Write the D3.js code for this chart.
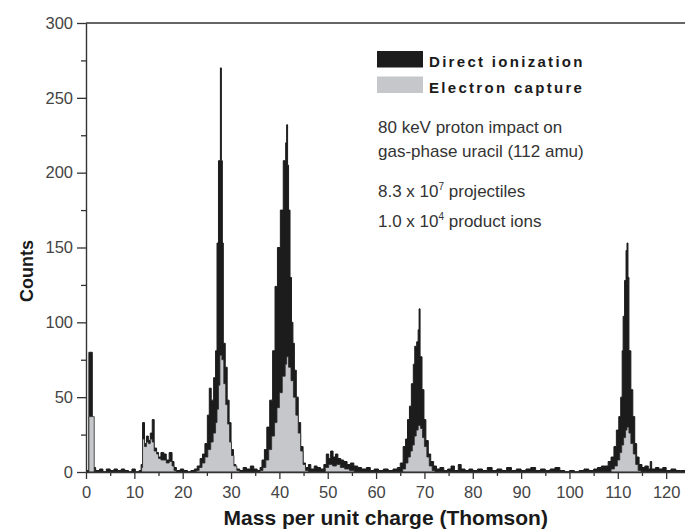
<!DOCTYPE html>
<html>
<head>
<meta charset="utf-8">
<script src="https://cdn.jsdelivr.net/npm/d3@7"></script>
<style>
  body { margin: 0; background: #fff; }
  svg { display: block; font-family: "Liberation Sans", Arial, sans-serif; }
</style>
</head>
<body>
<div id="chart"></div>
<script>
// [mass (Th), counts] — each count holds until the next mass (histogram steps)
const directIonization = [
  [0, 1], [0.6, 80], [1.3, 3], [2, 1], [2.8, 2], [3.5, 0], [4.2, 2], [5, 1], [5.8, 2], [6.5, 1],
  [7.3, 2], [8, 1], [8.8, 0], [9.5, 2], [10.2, 0], [11, 1],
  [11.4, 5], [11.7, 33], [12.1, 19], [12.5, 24], [12.9, 21], [13.3, 26], [13.7, 35], [14.1, 16],
  [14.6, 13], [15, 10], [15.5, 13], [16.1, 12], [16.6, 8], [17.2, 13], [17.8, 7], [18.2, 3],
  [18.7, 1], [19.5, 2], [20.2, 1], [21, 0], [21.7, 1], [22.4, 2],
  [23, 4], [23.6, 9], [24.1, 12], [24.6, 19], [25.1, 38], [25.5, 56], [25.9, 48], [26.4, 63],
  [26.8, 81], [27.1, 153], [27.4, 208], [27.8, 270], [28, 208], [28.2, 153], [28.4, 86],
  [28.8, 70], [29.2, 48], [29.6, 33], [30, 15], [30.5, 5], [31, 2],
  [31.8, 1], [32.5, 3], [33.2, 2], [34, 4], [34.7, 2], [35.4, 1],
  [36, 3], [36.4, 8], [36.9, 15], [37.4, 30], [38, 48], [38.6, 81], [39.1, 124], [39.6, 150],
  [40.2, 175], [40.8, 208], [41.3, 220], [41.5, 232], [41.7, 205], [41.9, 175], [42.2, 130],
  [42.5, 100], [42.8, 86], [43.1, 68], [43.5, 50], [43.9, 33], [44.4, 17], [44.9, 6],
  [45.4, 3], [46, 5], [46.5, 2], [47.2, 4], [47.8, 3], [48.5, 2],
  [49.2, 5], [49.7, 12], [50.2, 9], [50.6, 14], [51.1, 10], [51.6, 12], [52.1, 9], [52.7, 8],
  [53.3, 7], [54, 5], [54.7, 6], [55.4, 4], [56.2, 3], [57, 2], [58, 3], [58.8, 1],
  [59.6, 2], [60.5, 1], [61.5, 2], [62.5, 1], [63.5, 2], [64.4, 3],
  [65, 6], [65.6, 17], [66.1, 22], [66.5, 35], [66.9, 44], [67.3, 59], [67.7, 72], [68, 84],
  [68.4, 87], [68.7, 95], [68.9, 109], [69.1, 77], [69.5, 55], [69.9, 35], [70.3, 21],
  [70.8, 12], [71.3, 7], [71.9, 4], [72.5, 2],
  [73.2, 3], [74, 1], [74.8, 2], [75.5, 4], [76.2, 1], [77, 5], [77.6, 2], [78.4, 1], [79.2, 2],
  [80, 1], [81, 2], [82, 1], [83, 3], [84, 1], [85, 2], [86, 1], [87, 3], [88, 1], [89, 2],
  [90, 1], [91, 2], [92, 3], [93, 1], [94, 2], [95, 1], [96, 2], [97, 3], [98, 1], [99, 0],
  [100, 1], [101, 0], [102, 1], [103, 2], [104, 1], [105, 2], [105.8, 3], [106.6, 4],
  [107.3, 4], [108, 7], [108.6, 10], [109.2, 17], [109.7, 28], [110.2, 37], [110.6, 50],
  [110.9, 81], [111.1, 104], [111.4, 128], [111.7, 148], [111.9, 153], [112.1, 130],
  [112.3, 81], [112.7, 55], [113.1, 37], [113.5, 19], [113.9, 10], [114.4, 5],
  [115, 3], [115.6, 4], [116.3, 2], [116.7, 7], [117, 2], [117.8, 3], [118.5, 2], [119.3, 3],
  [120, 1], [121, 2], [122, 1], [123, 1], [124, 1]
];

const electronCapture = [
  [0, 0], [0.6, 37], [1.7, 0],
  [11.5, 3], [11.7, 22], [12.1, 17], [12.5, 20], [12.9, 19], [13.3, 22], [13.7, 20], [14.1, 14],
  [14.6, 12], [15, 9], [15.5, 8], [16.1, 8], [16.6, 6], [17.2, 7], [17.8, 4], [18.2, 1], [18.7, 0],
  [22.8, 1], [23.4, 3], [24, 6], [24.6, 10], [25.2, 15], [25.8, 20], [26.3, 26], [26.8, 33],
  [27.1, 42], [27.4, 58], [27.7, 78], [28.1, 75], [28.5, 59], [28.9, 45], [29.3, 32],
  [29.7, 20], [30.1, 11], [30.6, 4], [31.2, 1], [31.8, 0],
  [36, 1], [36.6, 3], [37.2, 8], [37.8, 15], [38.4, 24], [39, 33], [39.5, 43], [40, 53],
  [40.6, 64], [41.2, 72], [41.5, 77], [41.9, 70], [42.4, 61], [42.9, 50], [43.4, 38],
  [43.9, 26], [44.4, 14], [44.9, 5], [45.4, 1], [46, 0],
  [49.5, 3], [50.2, 5], [51, 4], [51.8, 5], [52.6, 3], [53.5, 2], [54.5, 1], [55.5, 0],
  [65.5, 2], [66.1, 6], [66.6, 10], [67.1, 14], [67.5, 18], [67.9, 24], [68.3, 28], [68.7, 31],
  [69.2, 29], [69.6, 23], [70, 17], [70.5, 10], [71, 4], [71.6, 1], [72.2, 0],
  [108.6, 2], [109.3, 4], [109.9, 8], [110.4, 13], [110.8, 18], [111.2, 23], [111.6, 28],
  [111.9, 30], [112.3, 26], [112.7, 19], [113.2, 12], [113.7, 5], [114.2, 1], [114.8, 0],
  [124, 0]
];

const xTicks = [0, 10, 20, 30, 40, 50, 60, 70, 80, 90, 100, 110, 120];
const xMinorTicks = [5, 15, 25, 35, 45, 55, 65, 75, 85, 95, 105, 115];
const yTicks = [0, 50, 100, 150, 200, 250, 300];
const yMinorTicks = [25, 75, 125, 175, 225, 275];

const legendItems = [
  { label: 'Direct ionization', color: '#1c1c1c' },
  { label: 'Electron capture', color: '#c6c7cb' }
];

const width = 685, height = 531;
const svg = d3.select('#chart').append('svg')
  .attr('width', width)
  .attr('height', height);

const x = d3.scaleLinear().domain([0, 124]).range([86, 685.5]);
const y = d3.scaleLinear().domain([0, 300]).range([472, 23]);

svg.append('clipPath').attr('id', 'plot')
  .append('rect')
  .attr('x', x(0)).attr('y', y(300))
  .attr('width', x(124) - x(0)).attr('height', y(0) - y(300));

const area = d3.area()
  .x(d => x(d[0]))
  .y0(y(0))
  .y1(d => y(d[1]))
  .curve(d3.curveStepAfter);

const plot = svg.append('g').attr('clip-path', 'url(#plot)');

plot.append('path')
  .datum(directIonization)
  .attr('fill', legendItems[0].color)
  .attr('stroke', '#1c1c1c')
  .attr('stroke-width', 1)
  .attr('d', area);

plot.append('path')
  .datum(electronCapture)
  .attr('fill', legendItems[1].color)
  .attr('stroke', '#2a2a2a')
  .attr('stroke-width', 0.8)
  .attr('d', area);

// axes
const axisColor = '#333';
const styleAxis = (g) => {
  g.select('.domain').attr('stroke', axisColor).attr('stroke-width', 1.4);
  g.selectAll('.tick line').attr('stroke', axisColor).attr('stroke-width', 1.3);
  g.selectAll('.tick text')
    .attr('fill', '#444')
    .style('font-size', '16.5px')
    .style('font-family', '"Liberation Sans", Arial, sans-serif');
};

svg.append('g')
  .attr('transform', 'translate(0,' + y(0) + ')')
  .call(d3.axisBottom(x).tickValues(xMinorTicks).tickSize(4).tickFormat('').tickSizeOuter(0))
  .call(g => g.select('.domain').remove())
  .call(styleAxis);

svg.append('g')
  .attr('transform', 'translate(' + x(0) + ',0)')
  .call(d3.axisLeft(y).tickValues(yMinorTicks).tickSize(5).tickFormat('').tickSizeOuter(0))
  .call(g => g.select('.domain').remove())
  .call(styleAxis);

svg.append('g')
  .attr('transform', 'translate(0,' + y(0) + ')')
  .call(d3.axisBottom(x).tickValues(xTicks).tickSize(7).tickPadding(7).tickSizeOuter(0))
  .call(styleAxis);

svg.append('g')
  .attr('transform', 'translate(' + x(0) + ',0)')
  .call(d3.axisLeft(y).tickValues(yTicks).tickSize(9).tickPadding(4).tickSizeOuter(0))
  .call(styleAxis);

// top frame line
svg.append('line')
  .attr('x1', x(0)).attr('x2', x(124))
  .attr('y1', y(300)).attr('y2', y(300))
  .attr('stroke', axisColor)
  .attr('stroke-width', 1.4);

// axis titles
svg.append('text')
  .attr('x', (x(0) + x(124)) / 2)
  .attr('y', 525)
  .attr('text-anchor', 'middle')
  .attr('fill', '#1a1a1a')
  .style('font-size', '21px')
  .style('font-weight', 'bold')
  .text('Mass per unit charge (Thomson)');

svg.append('text')
  .attr('transform', 'translate(33,' + 271 + ') rotate(-90)')
  .attr('text-anchor', 'middle')
  .attr('fill', '#1a1a1a')
  .style('font-size', '18px')
  .style('font-weight', 'bold')
  .text('Counts');

// legend
const legend = svg.append('g').attr('transform', 'translate(377,51)');
legend.selectAll('rect')
  .data(legendItems)
  .join('rect')
  .attr('x', 0)
  .attr('y', (d, i) => i * 25.5)
  .attr('width', 46)
  .attr('height', 16.5)
  .attr('fill', d => d.color);

legend.selectAll('text')
  .data(legendItems)
  .join('text')
  .attr('x', 52)
  .attr('y', (d, i) => 16 + i * 26)
  .attr('fill', '#1a1a1a')
  .style('font-size', '15px')
  .style('font-weight', 'bold')
  .style('letter-spacing', '2.3px')
  .text(d => d.label);

// annotations
const note = svg.append('g')
  .attr('fill', '#333')
  .style('font-size', '17px');

note.append('text').attr('x', 378).attr('y', 133).text('80 keV proton impact on');
note.append('text').attr('x', 378).attr('y', 157).text('gas-phase uracil (112 amu)');

const n1 = note.append('text').attr('x', 378).attr('y', 197);
n1.append('tspan').text('8.3 x 10');
n1.append('tspan').attr('dy', -7).style('font-size', '10px').text('7');
n1.append('tspan').attr('dy', 7).text(' projectiles');

const n2 = note.append('text').attr('x', 378).attr('y', 227);
n2.append('tspan').text('1.0 x 10');
n2.append('tspan').attr('dy', -7).style('font-size', '10px').text('4');
n2.append('tspan').attr('dy', 7).text(' product ions');
</script>
</body>
</html>
